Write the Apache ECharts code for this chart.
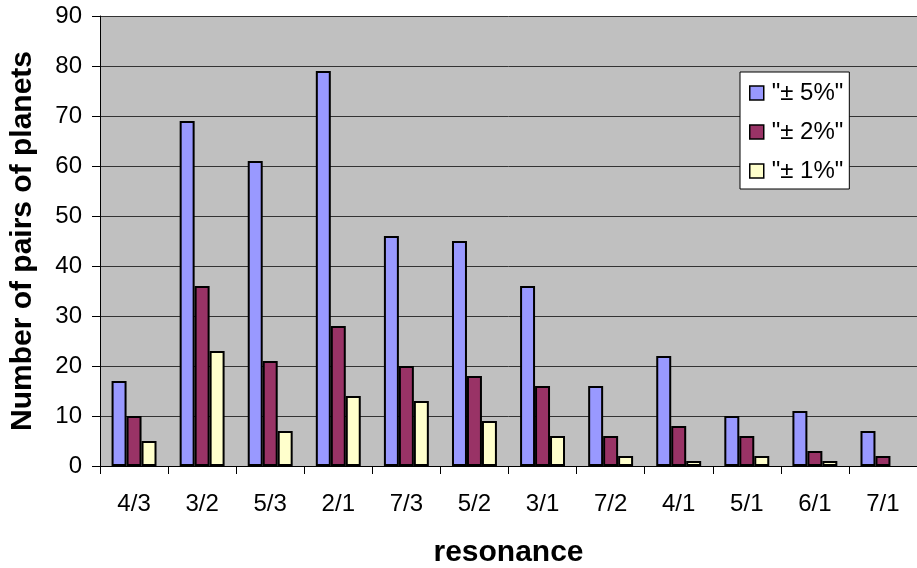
<!DOCTYPE html>
<html>
<head>
<meta charset="utf-8">
<script src="https://cdn.jsdelivr.net/npm/echarts@6/dist/echarts.min.js"></script>
<style>html,body{margin:0;padding:0;background:#fff;}#c{width:917px;height:568px;}</style>
</head>
<body>
<div id="c"></div>
<script>
var categories = ['4/3','3/2','5/3','2/1','7/3','5/2','3/1','7/2','4/1','5/1','6/1','7/1'];
var seriesNames = ['"± 5%"', '"± 2%"', '"± 1%"'];
var pm5 = [17, 69, 61, 79, 46, 45, 36, 16, 22, 10, 11, 7];
var pm2 = [10, 36, 21, 28, 20, 18, 16, 6, 8, 6, 3, 2];
var pm1 = [5, 23, 7, 14, 13, 9, 6, 2, 1, 2, 1, 0];
var yTicks = [0, 10, 20, 30, 40, 50, 60, 70, 80, 90];

var colors = ['#9999FF', '#993366', '#FFFFCC'];
var font = 'Liberation Sans, Arial, sans-serif';
var chart = echarts.init(document.getElementById('c'));
function bar(name, data, color) {
  return {
    name: name, type: 'bar',
    data: data.map(function (v) { return v === 0 ? '-' : v; }),
    barGap: '0%', barCategoryGap: '34%',
    itemStyle: { color: color, borderColor: '#000', borderWidth: 2 }
  };
}
chart.setOption({
  animation: false,
  textStyle: { fontFamily: font },
  grid: { left: 100, right: 0, top: 16, bottom: 102, show: true, backgroundColor: '#C0C0C0', borderWidth: 0,
    containLabel: false, outerBoundsMode: 'none' },
  legend: {
    orient: 'vertical', left: 740, top: 72,
    backgroundColor: '#fff', borderColor: '#000', borderWidth: 1,
    padding: [9, 6, 6, 9], itemGap: 15, itemWidth: 14, itemHeight: 14,
    icon: 'rect',
    itemStyle: { borderColor: '#000', borderWidth: 1.5 },
    textStyle: { fontSize: 24, color: '#000', fontFamily: font, padding: [0, 0, 0, 3] },
    data: seriesNames
  },
  xAxis: {
    type: 'category', data: categories,
    name: 'resonance', nameLocation: 'middle', nameGap: 72,
    nameTextStyle: { fontSize: 30, fontWeight: 'bold', color: '#000', fontFamily: font },
    axisLine: { lineStyle: { color: '#000', width: 1 } },
    axisTick: { show: true, length: 8, lineStyle: { color: '#000' } },
    axisLabel: { fontSize: 24, color: '#000', margin: 26, fontFamily: font }
  },
  yAxis: {
    type: 'value', min: 0, max: 90, interval: 10,
    name: 'Number of pairs of planets', nameLocation: 'middle', nameGap: 62,
    nameTextStyle: { fontSize: 30, fontWeight: 'bold', color: '#000', fontFamily: font },
    axisLine: { show: true, lineStyle: { color: '#000', width: 1 } },
    axisTick: { show: true, length: 8, lineStyle: { color: '#000' } },
    axisLabel: { fontSize: 24, color: '#000', margin: 18, fontFamily: font,
      formatter: function (v) { return yTicks.indexOf(v) >= 0 ? String(v) : ''; } },
    splitLine: { show: true, lineStyle: { color: '#333', width: 1 } }
  },
  series: [bar(seriesNames[0], pm5, colors[0]), bar(seriesNames[1], pm2, colors[1]), bar(seriesNames[2], pm1, colors[2])]
});
</script>
</body>
</html>
